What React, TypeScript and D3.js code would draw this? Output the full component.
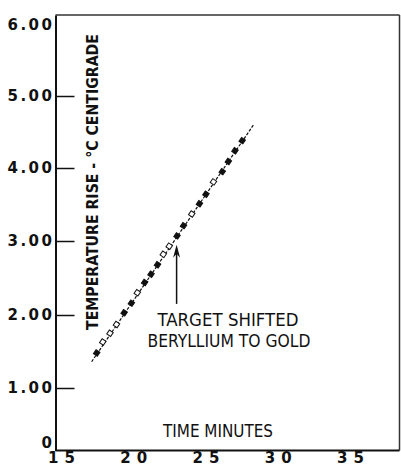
import React, { useEffect, useRef } from "react";
import * as d3 from "d3";

// readings taken off the scanned plot
const timeMin = [17.47, 17.89, 18.39, 18.84, 19.37, 19.87, 20.28, 20.79, 21.23, 21.68, 22.08,
  22.49, 23.03, 23.48, 24.05, 24.58, 25.03, 25.55, 26.16, 26.58, 27.04, 27.54];
const tempRise = [1.48, 1.63, 1.75, 1.87, 2.03, 2.16, 2.30, 2.44, 2.55, 2.68, 2.82,
  2.93, 3.07, 3.21, 3.37, 3.51, 3.64, 3.81, 3.95, 4.09, 4.24, 4.38];
const solid = [1, 0, 0, 0, 1, 1, 0, 1, 1, 1, 0, 0, 1, 1, 0, 1, 1, 0, 1, 1, 1, 1];

// drawn trend line
const fitTime = [17.12, 28.36];
const fitRise = [1.36, 4.61];

const xTicks = [15, 20, 25, 30, 35];
const yTicks = [0, 1, 2, 3, 4, 5, 6];
const yTickLabels = ["0", "1.00", "2.00", "3.00", "4.00", "5.00", "6.00"];

// arrow: target shifted beryllium -> gold
const arrowTime = 23.0;
const arrowRise = [2.95, 2.15];

const W = 401;
const H = 467;

export default function App() {
  const ref = useRef<SVGSVGElement>(null);

  useEffect(() => {
    const svg = d3.select(ref.current);
    svg.selectAll("*").remove();

    const left = 55.5, right = 399.5, top = 15, bottom = 450.5;

    const x = d3.scaleLinear().domain([15, 35]).range([61, 350]);
    // the printed axis is not evenly spaced, so follow its tick positions
    const y = d3.scaleLinear().domain(yTicks).range([450.5, 388, 315, 241, 168, 96, 15]);

    // frame
    svg.append("line").attr("x1", left).attr("x2", right).attr("y1", top).attr("y2", top)
      .attr("stroke", "#333").attr("stroke-width", 1.5);
    svg.append("line").attr("x1", right).attr("x2", right).attr("y1", top).attr("y2", bottom)
      .attr("stroke", "#333").attr("stroke-width", 1.5);

    // y axis with ticks pointing in
    const yAxis = d3.axisLeft(y).tickValues(yTicks)
      .tickFormat((d, i) => yTickLabels[i])
      .tickSizeInner(-19).tickSizeOuter(0).tickPadding(1);
    const gy = svg.append("g").attr("transform", `translate(${left},0)`).call(yAxis);
    gy.select(".domain").attr("stroke", "#111").attr("stroke-width", 2);
    gy.selectAll(".tick line").attr("stroke", "#111").attr("stroke-width", 1.5);
    gy.selectAll(".tick text")
      .attr("font-family", "DejaVu Sans, sans-serif")
      .attr("font-weight", "bold")
      .attr("font-size", 15)
      .attr("letter-spacing", 2.5)
      .attr("fill", "#111")
      .attr("dy", (d: any) => (d === 6 ? "0.95em" : d === 0 ? "-0.2em" : "0.32em"));
    gy.selectAll(".tick").filter((d: any) => d === 0 || d === 6).select("line").remove();

    // x axis, labels only
    const xAxis = d3.axisBottom(x).tickValues(xTicks).tickFormat(d3.format("d"))
      .tickSize(0).tickPadding(2);
    const gx = svg.append("g").attr("transform", `translate(0,${bottom})`).call(xAxis);
    gx.select(".domain").attr("d", `M${left},0H${right}`).attr("stroke", "#111").attr("stroke-width", 2);
    gx.selectAll(".tick text")
      .attr("font-family", "DejaVu Sans, sans-serif")
      .attr("font-weight", "bold")
      .attr("font-size", 15)
      .attr("letter-spacing", 6)
      .attr("dx", 3)
      .attr("fill", "#111");

    // trend line
    const pts = fitTime.map((t, i) => [x(t), y(fitRise[i])] as [number, number]);
    svg.append("path")
      .attr("d", d3.line()(pts))
      .attr("stroke", "#111").attr("stroke-width", 1.2)
      .attr("stroke-dasharray", "3,1.5").attr("fill", "none");

    const ang = Math.atan2(pts[1][1] - pts[0][1], pts[1][0] - pts[0][0]) * 180 / Math.PI;
    const sq = d3.symbol(d3.symbolSquare, 22);
    svg.append("g").selectAll("path")
      .data(timeMin.map((t, i) => ({ t, v: tempRise[i], s: solid[i] })))
      .join("path")
      .attr("d", sq() as string)
      .attr("transform", (d) => `translate(${x(d.t)},${y(d.v)}) rotate(${ang})`)
      .attr("fill", (d) => (d.s ? "#111" : "#fff"))
      .attr("stroke", "#111").attr("stroke-width", 1);

    // annotation arrow
    const ax = x(arrowTime);
    const tipY = y(arrowRise[0]);
    svg.append("line").attr("x1", ax).attr("x2", ax).attr("y1", tipY + 4).attr("y2", y(arrowRise[1]))
      .attr("stroke", "#111").attr("stroke-width", 1.5);
    svg.append("path")
      .attr("d", `M${ax},${tipY} L${ax + 3.5},${tipY + 13} L${ax},${tipY + 9} L${ax - 3.5},${tipY + 13} Z`)
      .attr("fill", "#111");

    const ann = svg.append("g")
      .attr("font-family", "Liberation Sans Narrow, DejaVu Sans Condensed, sans-serif")
      .attr("font-size", 18).attr("fill", "#111").attr("text-anchor", "middle");
    ann.append("text").attr("x", 228).attr("y", 326)
      .attr("textLength", 141).attr("lengthAdjust", "spacingAndGlyphs")
      .text("TARGET  SHIFTED");
    ann.append("text").attr("x", 229).attr("y", 347)
      .attr("textLength", 163).attr("lengthAdjust", "spacingAndGlyphs")
      .text("BERYLLIUM TO GOLD");

    // axis titles
    svg.append("text").attr("x", 218).attr("y", 437)
      .attr("font-family", "Liberation Sans Narrow, DejaVu Sans Condensed, sans-serif")
      .attr("font-size", 18).attr("fill", "#111").attr("text-anchor", "middle")
      .attr("textLength", 110).attr("lengthAdjust", "spacingAndGlyphs")
      .text("TIME MINUTES");

    svg.append("text")
      .attr("transform", `translate(98,182) rotate(-90)`)
      .attr("font-family", "Liberation Sans Narrow, DejaVu Sans Condensed, sans-serif")
      .attr("font-weight", "bold")
      .attr("font-size", 15).attr("fill", "#111").attr("text-anchor", "middle")
      .attr("textLength", 296).attr("lengthAdjust", "spacingAndGlyphs")
      .text("TEMPERATURE  RISE - °C  CENTIGRADE");
  }, []);

  return (
    <svg ref={ref} width={W} height={H}
      style={{ position: "absolute", left: 0, top: 0, background: "#fff" }} />
  );
}
